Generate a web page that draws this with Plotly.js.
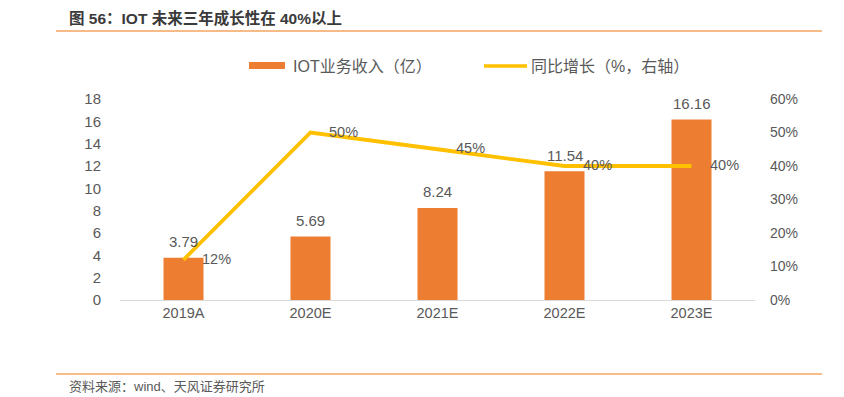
<!DOCTYPE html>
<html><head><meta charset="utf-8">
<script src="https://cdn.plot.ly/plotly-3.0.1.min.js"></script>
<style>html,body{margin:0;padding:0;background:#fff}#c{width:844px;height:397px}</style>
</head><body><div id="c"></div>
<script>
const categories = ['2019A','2020E','2021E','2022E','2023E'];
const revenue = [3.79, 5.69, 8.24, 11.54, 16.16];
const growth = [0.12, 0.50, 0.45, 0.40, 0.40];
const growthLabels = ['12%','50%','45%','40%','40%'];
const revenueLabels = ['3.79','5.69','8.24','11.54','16.16'];
const seriesNames = ['IOT业务收入（亿）','同比增长（%，右轴）'];
const leftTicks = [0,2,4,6,8,10,12,14,16,18];
const rightTicks = [0,0.1,0.2,0.3,0.4,0.5,0.6];
const rightTickText = ['0%','10%','20%','30%','40%','50%','60%'];

const FONT = 'Liberation Sans, Arial, Noto Sans CJK SC, sans-serif';
const GRAY = '#595959';
const BAR = '#ED7D31', LINE = '#FFC000';

const L = 120, R = 89, T = 99, B = 97, W = 844, H = 397;
const pw = W - L - R, ph = H - T - B;
const px = v => (v - L) / pw, py = v => (H - B - v) / ph;

const traces = [
  {type:'bar', x:categories, y:revenue, name:seriesNames[0],
   marker:{color:BAR}, hoverinfo:'none'},
  {type:'scatter', mode:'lines', x:categories, y:growth, yaxis:'y2', name:seriesNames[1],
   line:{color:LINE, width:3.8}, hoverinfo:'none'}
];

const annotations = [];
categories.forEach((c,i)=>annotations.push({
  x:c, y:revenue[i], xref:'x', yref:'y', text:revenueLabels[i], showarrow:false,
  xanchor:'center', yanchor:'middle', yshift:16, font:{size:15,color:GRAY,family:FONT}
}));
categories.forEach((c,i)=>annotations.push({
  x:c, y:growth[i], xref:'x', yref:'y2', text:growthLabels[i], showarrow:false,
  xanchor:'left', yanchor:'middle', xshift:16, yshift:1, font:{size:14.5,color:GRAY,family:FONT}
}));
annotations.push({xref:'paper',yref:'paper',x:px(67),y:py(18),xanchor:'left',yanchor:'middle',
  text:'<b>图 56：IOT 未来三年成长性在 40%以上</b>', showarrow:false,
  font:{size:15.5,color:'#3a3a3a',family:FONT}});
annotations.push({xref:'paper',yref:'paper',x:px(67),y:py(386),xanchor:'left',yanchor:'middle',
  text:'资料来源：wind、天风证券研究所', showarrow:false,
  font:{size:13,color:GRAY,family:FONT}});
annotations.push({xref:'paper',yref:'paper',x:px(291),y:py(66),xanchor:'left',yanchor:'middle',
  text:seriesNames[0], showarrow:false, font:{size:16,color:GRAY,family:FONT}});
annotations.push({xref:'paper',yref:'paper',x:px(529),y:py(66),xanchor:'left',yanchor:'middle',
  text:seriesNames[1], showarrow:false, font:{size:16,color:GRAY,family:FONT}});

const layout = {
  width:W, height:H, margin:{l:L,r:R,t:T,b:B},
  paper_bgcolor:'#fff', plot_bgcolor:'#fff', showlegend:false,
  bargap:0.685,
  font:{family:FONT,color:GRAY,size:14},
  xaxis:{type:'category', showgrid:false, showline:true, linecolor:'#d9d9d9', linewidth:1,
    ticks:'', tickfont:{size:14.5,color:GRAY}, zeroline:false},
  yaxis:{range:[0,18], tickvals:leftTicks, showgrid:false, zeroline:false, showline:false,
    ticks:'', ticklabelstandoff:18, tickfont:{size:15,color:GRAY}},
  yaxis2:{range:[0,0.6], overlaying:'y', side:'right', tickvals:rightTicks, ticktext:rightTickText,
    showgrid:false, zeroline:false, showline:false, ticks:'', ticklabelstandoff:14,
    tickfont:{size:14,color:GRAY}},
  shapes:[
    {type:'line', xref:'paper', yref:'paper', x0:px(56), x1:px(822), y0:py(31), y1:py(31), line:{color:'#F4A460',width:1.5}},
    {type:'line', xref:'paper', yref:'paper', x0:px(56), x1:px(822), y0:py(374), y1:py(374), line:{color:'#F4A460',width:1.5}},
    {type:'rect', xref:'paper', yref:'paper', x0:px(249), x1:px(285), y0:py(62), y1:py(69), fillcolor:BAR, line:{width:0}},
    {type:'line', xref:'paper', yref:'paper', x0:px(484), x1:px(527), y0:py(66), y1:py(66), line:{color:LINE,width:3.5}}
  ],
  annotations:annotations
};

Plotly.newPlot('c', traces, layout, {staticPlot:true});
</script></body></html>
